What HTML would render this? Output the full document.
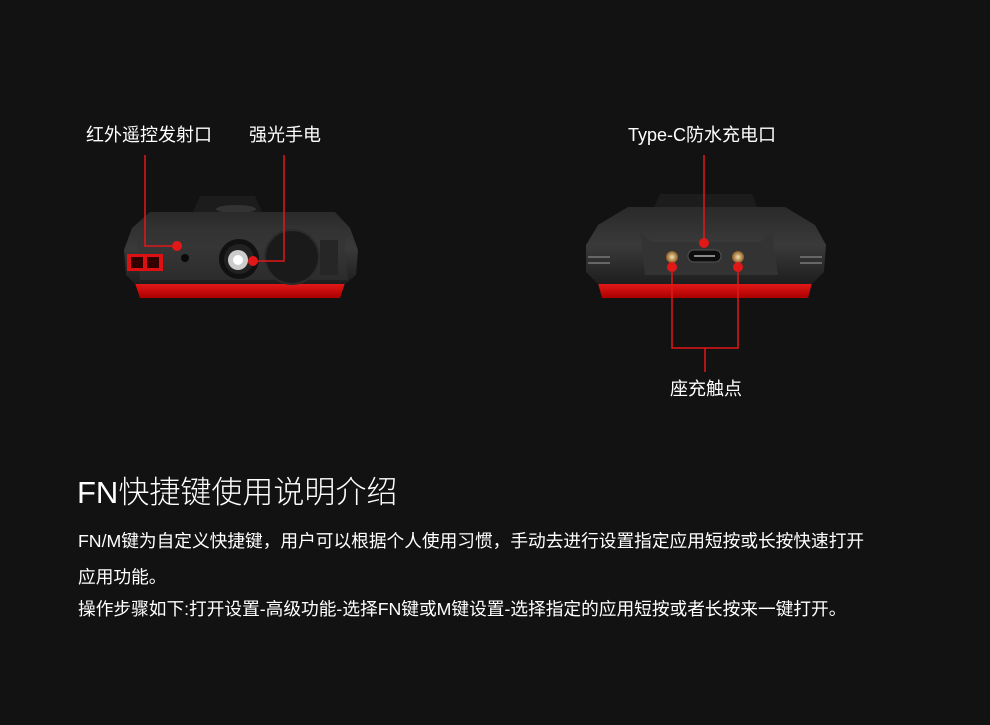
<!DOCTYPE html>
<html><head><meta charset="utf-8"><style>
html,body{margin:0;padding:0;background:#121212;}
body{width:990px;height:725px;position:relative;overflow:hidden;font-family:"Liberation Sans","Noto Sans CJK SC",sans-serif;color:#fff;}
.t{position:absolute;white-space:nowrap;}
</style></head><body>
<svg width="990" height="725" style="position:absolute;left:0;top:0">
<defs>
<linearGradient id="bk" x1="0" y1="0" x2="0" y2="1"><stop offset="0" stop-color="#2a2a2a"/><stop offset="0.5" stop-color="#3a3a3a"/><stop offset="1" stop-color="#1e1e1e"/></linearGradient>
<linearGradient id="rd" x1="0" y1="0" x2="0" y2="1"><stop offset="0" stop-color="#e51a1a"/><stop offset="1" stop-color="#a00"/></linearGradient>
<radialGradient id="gd"><stop offset="0" stop-color="#f5e0b0"/><stop offset="1" stop-color="#8a5a20"/></radialGradient>
</defs>
<path d="M193 212 L200 196 L255 196 L262 212 Z" fill="#1c1c1c"/>
<ellipse cx="236" cy="209" rx="20" ry="4" fill="#333"/>
<path d="M135 283 L345 283 L340 298 L140 298 Z" fill="url(#rd)"/>
<path d="M150 212 L335 212 L350 228 L358 250 L356 275 L345 284 L135 284 L126 275 L124 250 L132 228 Z" fill="url(#bk)"/>
<path d="M145 226 L340 226 L345 240 L348 280 L140 280 L137 240 Z" fill="#333" opacity="0.6"/>
<rect x="127" y="254" width="36" height="17" fill="#d11"/>
<rect x="131" y="257" width="12" height="11" fill="#300"/><rect x="147" y="257" width="12" height="11" fill="#300"/>
<circle cx="185" cy="258" r="4" fill="#0a0a0a"/>
<circle cx="239" cy="259" r="20" fill="#111"/>
<circle cx="239" cy="259" r="15" fill="#222"/>
<circle cx="238" cy="260" r="10" fill="#ccc"/><circle cx="238" cy="260" r="5" fill="#fff"/>
<circle cx="292" cy="257" r="27" fill="#1a1a1a" stroke="#2c2c2c" stroke-width="2"/>
<path d="M320 240 L338 240 L338 275 L320 275" fill="#262626"/>
<path d="M654 207 L660 194 L752 194 L757 207 Z" fill="#1c1c1c"/>
<path d="M598 283 L812 283 L808 298 L602 298 Z" fill="url(#rd)"/>
<path d="M628 207 L785 207 L815 225 L826 245 L824 272 L812 284 L598 284 L586 272 L586 245 L598 225 Z" fill="url(#bk)"/>
<path d="M640 232 L652 242 L760 242 L772 232 L778 275 L645 275 Z" fill="#333"/>
<g fill="#666"><rect x="588" y="256" width="22" height="2"/><rect x="588" y="262" width="22" height="2"/><rect x="800" y="256" width="22" height="2"/><rect x="800" y="262" width="22" height="2"/></g>
<rect x="688" y="250" width="33" height="12" rx="6" fill="#0d0d0d" stroke="#555"/>
<rect x="694" y="255" width="21" height="2" fill="#888"/>
<circle cx="672" cy="257" r="6" fill="url(#gd)"/><circle cx="738" cy="257" r="6" fill="url(#gd)"/>
<g stroke="#e01818" stroke-width="1.5" fill="none">
<polyline points="145,155 145,246 176,246"/>
<polyline points="284,155 284,261 254,261"/>
<line x1="704" y1="155" x2="704" y2="243"/>
<polyline points="672,267 672,348 738,348 738,267"/>
<line x1="705" y1="348" x2="705" y2="372"/>
</g>
<g fill="#e01818"><circle cx="177" cy="246" r="5"/><circle cx="253" cy="261" r="5"/><circle cx="704" cy="243" r="5"/><circle cx="672" cy="267" r="5"/><circle cx="738" cy="267" r="5"/></g>
</svg>
<div class="t" style="left:86px;top:121px;font-size:18px">红外遥控发射口</div>
<div class="t" style="left:249px;top:121px;font-size:18px">强光手电</div>
<div class="t" style="left:628px;top:121px;font-size:18px">Type-C防水充电口</div>
<div class="t" style="left:670px;top:375px;font-size:18px">座充触点</div>
<div class="t" style="left:77px;top:467px;font-size:31px;font-weight:300">FN快捷键使用说明介绍</div>
<div class="t" style="left:78px;top:523px;font-size:17.7px;line-height:36px">FN/M键为自定义快捷键，用户可以根据个人使用习惯，手动去进行设置指定应用短按或长按快速打开<br>应用功能。</div>
<div class="t" style="left:78px;top:595px;font-size:17.7px">操作步骤如下:打开设置-高级功能-选择FN键或M键设置-选择指定的应用短按或者长按来一键打开。</div>
</body></html>
